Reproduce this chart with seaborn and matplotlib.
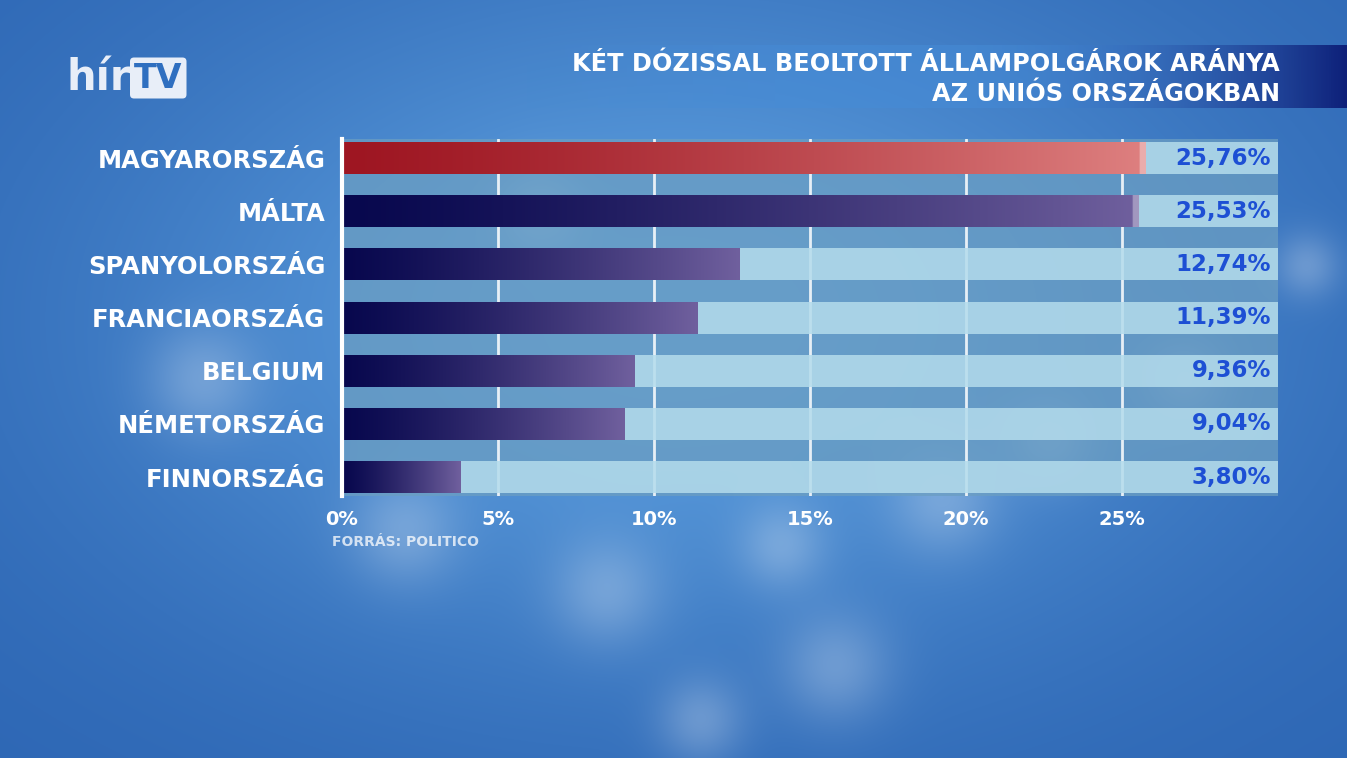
import numpy as np
import pandas as pd
import matplotlib
matplotlib.use("Agg")
import matplotlib.pyplot as plt
import seaborn as sns

# ---------------- data ----------------
countries = ["MAGYARORSZÁG", "MÁLTA", "SPANYOLORSZÁG", "FRANCIAORSZÁG",
             "BELGIUM", "NÉMETORSZÁG", "FINNORSZÁG"]
values = [25.76, 25.53, 12.74, 11.39, 9.36, 9.04, 3.80]
value_labels = ["25,76%", "25,53%", "12,74%", "11,39%", "9,36%", "9,04%", "3,80%"]
track_max = [30] * len(countries)
tick_values = [0, 5, 10, 15, 20, 25]
tick_labels = ["0%", "5%", "10%", "15%", "20%", "25%"]
title_lines = ["KÉT DÓZISSAL BEOLTOTT ÁLLAMPOLGÁROK ARÁNYA", "AZ UNIÓS ORSZÁGOKBAN"]
source_text = "FORRÁS: POLITICO"

df = pd.DataFrame({"country": countries, "value": values, "track": track_max})

sns.set_theme(style="white")
plt.rcParams['font.family'] = ['DejaVu Sans']

W, H = 1347, 758
fig = plt.figure(figsize=(W / 100, H / 100), dpi=100)

# ---------------- background ----------------
bgax = fig.add_axes([0, 0, 1, 1])
yy, xx = np.mgrid[0:H, 0:W]
xn = xx / W
yn = yy / H
dark = np.array([28, 82, 165]) / 255
light = np.array([92, 158, 222]) / 255
w = np.exp(-(((xn - 0.5) ** 2) / 0.18 + ((yn - 0.42) ** 2) / 0.22))
w = 0.25 + 0.75 * w
bg = dark[None, None, :] * (1 - w[..., None]) + light[None, None, :] * w[..., None]
# soft bokeh-like light spots (decoration)
spots = [(0.45, 0.78, 0.05), (0.58, 0.72, 0.04), (0.70, 0.66, 0.05), (0.62, 0.88, 0.05),
         (0.78, 0.58, 0.04), (0.88, 0.50, 0.04), (0.30, 0.70, 0.05), (0.52, 0.95, 0.04),
         (0.40, 0.28, 0.04), (0.15, 0.50, 0.05), (0.97, 0.35, 0.03)]
for cx, cy, r in spots:
    g = np.exp(-(((xn - cx) * W / H) ** 2 + (yn - cy) ** 2) / (2 * r ** 2))
    bg = bg + 0.25 * g[..., None] * (np.array([1, 1, 1]) - bg)
bg = np.clip(bg, 0, 1)
bgax.imshow(bg, extent=[0, W, H, 0], aspect='auto', zorder=0)

# title banner gradient
bw = 822
ban = np.zeros((1, bw, 4))
t = np.linspace(0, 1, bw)
c0 = np.array([70, 140, 215]) / 255
c1 = np.array([12, 28, 118]) / 255
tt = np.clip((t - 0.55) / 0.45, 0, 1) ** 1.5
ban[0, :, :3] = c0 * (1 - tt[:, None]) + c1 * tt[:, None]
ban[0, :, 3] = np.clip(t * 3, 0, 1) * 0.55 + 0.4 * tt
bgax.imshow(ban, extent=[W - bw, W, 108, 45], aspect='auto', zorder=1)
bgax.set_xlim(0, W)
bgax.set_ylim(H, 0)
bgax.axis('off')

# ---------------- main chart ----------------
left_px, right_px = 342, 1278
top_px, bot_px = 139.4, 495.8
ax = fig.add_axes([left_px / W, 1 - bot_px / H, (right_px - left_px) / W, (bot_px - top_px) / H])
ax.set_facecolor((0.42, 0.62, 0.76, 0.75))

bar_w = 0.6
sns.barplot(data=df, x="track", y="country", orient="h", color="#b4dcec",
            width=bar_w, ax=ax, saturation=1, zorder=2)
n_track = len(ax.patches)
sns.barplot(data=df, x="value", y="country", orient="h", color="#101060",
            width=bar_w, ax=ax, saturation=1, zorder=3)

for p in ax.patches[:n_track]:
    p.set_alpha(0.85)
    p.set_edgecolor("none")

xlim = (0, 30)
ylim = (len(countries) - 1 + 0.35, -0.35)

navy0 = np.array([8, 8, 78]) / 255
navy1 = np.array([112, 96, 158]) / 255
red0 = np.array([158, 22, 34]) / 255
red1 = np.array([222, 128, 128]) / 255
for i, p in enumerate(ax.patches[n_track:]):
    x0, y0 = p.get_x(), p.get_y()
    pw, ph = p.get_width(), p.get_height()
    n = 512
    s = np.linspace(0, 1, n) ** 1.3
    a, b = (red0, red1) if i == 0 else (navy0, navy1)
    grad = a[None, :] * (1 - s[:, None]) + b[None, :] * s[:, None]
    # light highlight at bar end
    if pw > 15:
        tail = 4
        grad[-tail:] = grad[-tail:] * 0.65 + 0.35
    im = ax.imshow(grad[None, :, :], extent=[x0, x0 + pw, y0 + ph, y0],
                   aspect='auto', zorder=3, interpolation='bilinear')
    im.set_clip_path(p)
    p.set_facecolor("none")
    p.set_edgecolor("none")

ax.set_xlim(*xlim)
ax.set_ylim(*ylim)

ax.set_xticks(tick_values)
ax.set_xticklabels(tick_labels)
ax.xaxis.grid(True, color="white", lw=2, alpha=0.85, zorder=1)
ax.yaxis.grid(False)
ax.set_axisbelow(True)
for sp in ["top", "right", "bottom"]:
    ax.spines[sp].set_visible(False)
ax.spines["left"].set_color("white")
ax.spines["left"].set_linewidth(3)
ax.spines["left"].set_zorder(5)
ax.tick_params(axis="x", length=0, pad=10, labelcolor="white", labelsize=14)
ax.tick_params(axis="y", length=0, pad=12, labelcolor="white", labelsize=17.5)
for lab in ax.get_xticklabels() + ax.get_yticklabels():
    lab.set_fontweight("bold")
ax.set_xlabel("")
ax.set_ylabel("")

for i, lab in enumerate(value_labels):
    ax.text(29.78, i, lab, ha="right", va="center", color="#1d4fd4",
            fontsize=16.5, fontweight="bold", zorder=6)

# ---------------- texts ----------------
fig.text(1280 / W, 1 - 64 / H, title_lines[0], ha="right", va="center",
         color="white", fontsize=17.3, fontweight="bold")
fig.text(1280 / W, 1 - 94 / H, title_lines[1], ha="right", va="center",
         color="white", fontsize=17.3, fontweight="bold")
fig.text(332 / W, 1 - 542 / H, source_text, ha="left", va="center",
         color="white", alpha=0.75, fontsize=10, fontweight="bold")

# logo
fig.text(66 / W, 1 - 78 / H, "hír", ha="left", va="center", color="#e8eef8",
         fontsize=30, fontweight="bold")
fig.text(134 / W, 1 - 78 / H, "TV", ha="left", va="center", color="#2f6fc0",
         fontsize=24, fontweight="bold",
         bbox=dict(boxstyle="round,pad=0.12", fc="#e8eef8", ec="none"))

fig.savefig("out.png", dpi=100)
